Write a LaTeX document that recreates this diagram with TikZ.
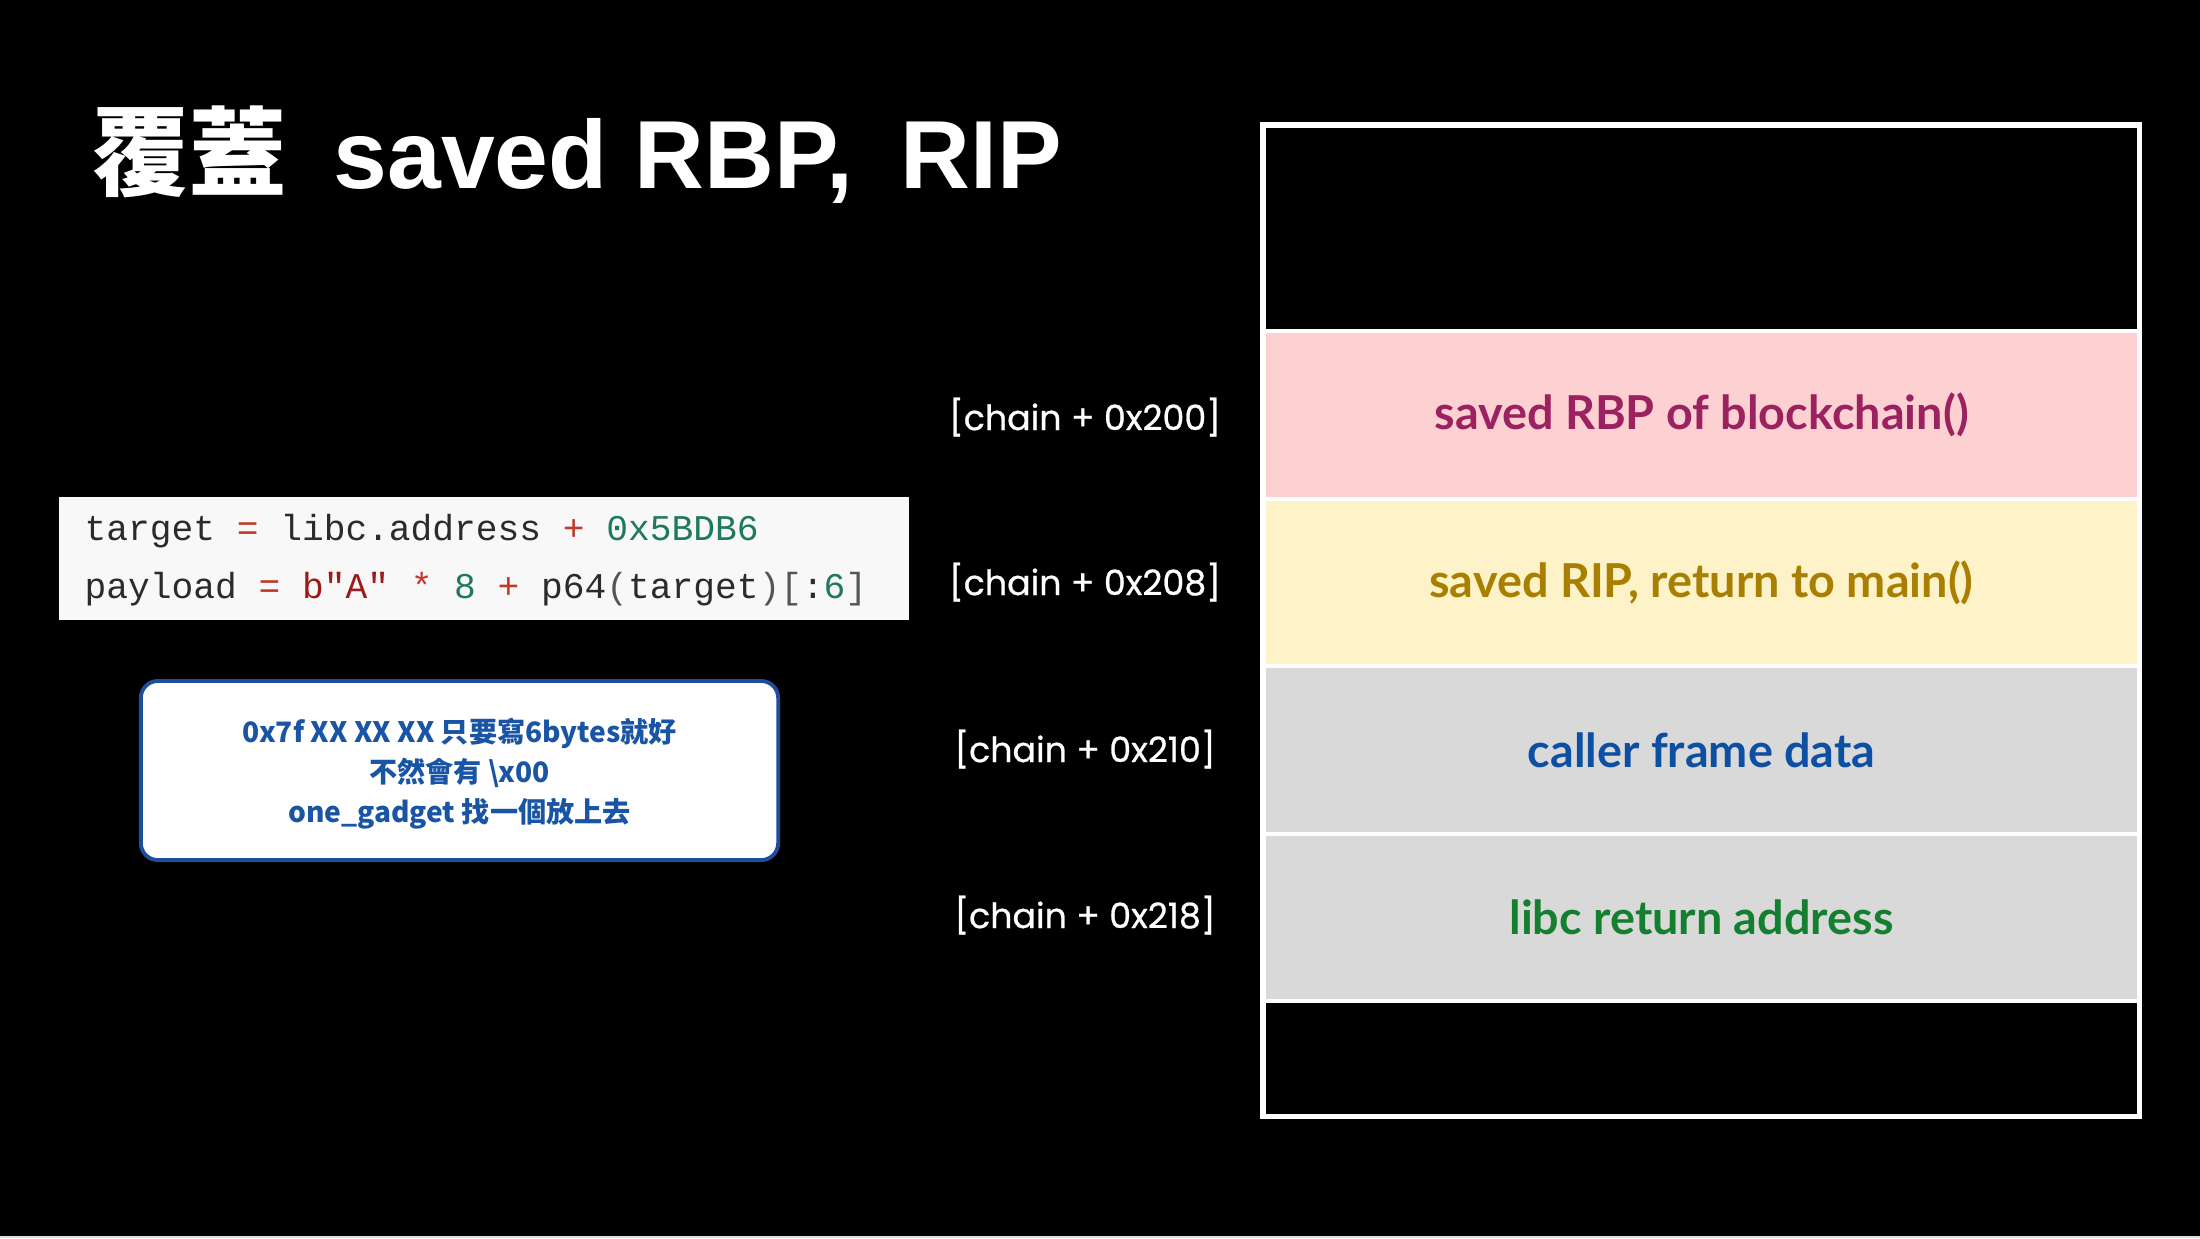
\documentclass[tikz,border=0pt]{standalone}
\usepackage{fontspec}
\setmonofont{Liberation Mono}
\newfontfamily\titlefont{Liberation Sans}
\newfontfamily\cjkfont{Noto Sans CJK TC}
\newfontfamily\labelfont{Poppins}[FakeBold=0.7]
\newfontfamily\cellfont{Lato}
\definecolor{pinkfill}{HTML}{FDD0D1}
\definecolor{pinktext}{HTML}{9B2160}
\definecolor{yelfill}{HTML}{FEF3C8}
\definecolor{yeltext}{HTML}{A87F00}
\definecolor{greyfill}{HTML}{D9D9D9}
\definecolor{bluetext}{HTML}{0D4FA3}
\definecolor{greentext}{HTML}{14802F}
\definecolor{notebd}{HTML}{1D4E9B}
\definecolor{notetext}{HTML}{1A55A5}
\definecolor{codebg}{HTML}{F8F8F8}
\definecolor{codeid}{HTML}{2B2B2B}
\definecolor{codeop}{HTML}{C0392B}
\definecolor{codenum}{HTML}{1F7A57}
\definecolor{codestr}{HTML}{9E1A1A}
\definecolor{codepun}{HTML}{555555}
\tikzset{
  cell/.style={inner sep=0pt, minimum width=8.71cm, font=\cellfont\bfseries\fontsize{13.3}{15}\selectfont},
  lbl/.style={inner sep=0pt, text=white, font=\labelfont\fontsize{9.9}{12}\selectfont},
  note/.style={draw=notebd, line width=1.1pt, fill=white, rounded corners=0.17cm,
    minimum width=6.37cm, minimum height=1.79cm, align=center, text=notetext,
    font=\cjkfont\bfseries\fontsize{8.0}{11.4}\selectfont},
  codeline/.style={inner sep=0pt, anchor=base west, text=codeid, font=\ttfamily\fontsize{10.3}{12}\selectfont},
}
\newcommand{\cop}[1]{\textcolor{codeop}{#1}}
\newcommand{\cnum}[1]{\textcolor{codenum}{#1}}
\newcommand{\cstr}[1]{\textcolor{codestr}{#1}}
\newcommand{\cpun}[1]{\textcolor{codepun}{#1}}
\begin{document}
\begin{tikzpicture}[x=0.01cm,y=-0.01cm]
\fill[black] (0,0) rectangle (2200,1238);
\useasboundingbox (0,0) rectangle (2200,1238);
\fill[white!88!black] (0,1236) rectangle (2200,1238);
% title
\node[anchor=base west, inner sep=0pt, text=white, font=\fontsize{27.5}{32}\selectfont] (title) at (92,188)
  {{\cjkfont\bfseries 覆蓋}\hspace{13.5pt}{\titlefont\bfseries saved RBP,\hspace{13.5pt}RIP}};
% stack
\fill[white] (1260,122) rectangle (2142,1119);
\node[cell, fill=black, minimum height=2.01cm] (top) at (1701.5,228.5) {};
\node[cell, fill=pinkfill, text=pinktext, minimum height=1.64cm] (rbp) at (1701.5,415) {saved RBP of blockchain()};
\node[cell, fill=yelfill, text=yeltext, minimum height=1.63cm] (rip) at (1701.5,582.5) {saved RIP, return to main()};
\node[cell, fill=greyfill, text=bluetext, minimum height=1.64cm] (caller) at (1701.5,750) {caller frame data};
\node[cell, fill=greyfill, text=greentext, minimum height=1.63cm] (libc) at (1701.5,917.5) {libc return address};
\node[cell, fill=black, minimum height=1.11cm] (bottom) at (1701.5,1058.5) {};
% labels
\node[lbl] (l200) at (1085,417) {[chain + 0x200]};
\node[lbl] (l208) at (1085,582) {[chain + 0x208]};
\node[lbl] (l210) at (1085,749) {[chain + 0x210]};
\node[lbl] (l218) at (1085,915) {[chain + 0x218]};
% code
\node[fill=codebg, inner sep=0pt, minimum width=8.5cm, minimum height=1.23cm] (code) at (484,558.5) {};
\node[codeline] (c1) at (84,540) {target \cop{=} libc.address \cop{+} \cnum{0x5BDB6}};
\node[codeline] (c2) at (84,598) {payload \cop{=} \cstr{b"A"} \cop{*} \cnum{8} \cop{+} p64\cpun{(}target\cpun{)[}:\cnum{6}\cpun{]}};
% note
\node[draw=notebd, line width=1.1pt, fill=white, rounded corners=0.17cm,
    minimum width=6.37cm, minimum height=1.79cm] (note) at (459.5,770.5) {};
\node[align=center, text=notetext, inner sep=0pt, font=\cjkfont\bfseries\fontsize{8.0}{11.4}\selectfont] (notetxt) at (459.5,773.5)
  {0x7f XX XX XX 只要寫6bytes就好\\不然會有 \textbackslash x00\\one\_gadget 找一個放上去};
\end{tikzpicture}
\end{document}
